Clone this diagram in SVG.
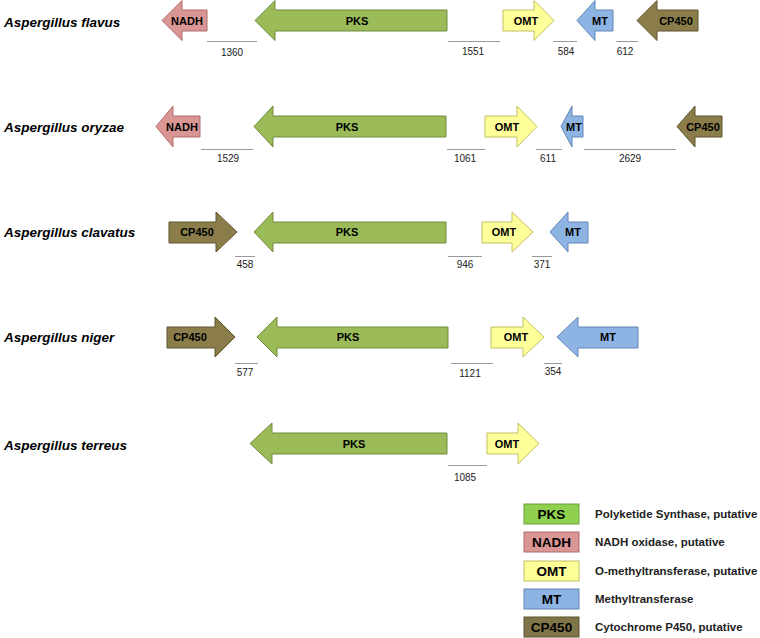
<svg xmlns="http://www.w3.org/2000/svg" width="760" height="638" viewBox="0 0 760 638">
<style>
.sp{font-family:"Liberation Sans",Arial,sans-serif;font-size:13.5px;font-weight:bold;font-style:italic;fill:#000}
.gl{font-family:"Liberation Sans",Arial,sans-serif;font-size:11px;font-weight:bold;fill:#000;text-anchor:middle}
.num{font-family:"Liberation Sans",Arial,sans-serif;font-size:10px;fill:#222;text-anchor:middle}
.lgt{font-family:"Liberation Sans",Arial,sans-serif;font-size:13.5px;font-weight:bold;fill:#000;text-anchor:middle}
.lgd{font-family:"Liberation Sans",Arial,sans-serif;font-size:11.5px;font-weight:bold;fill:#222}
.pks{fill:#9BBB59;stroke:#71893F;stroke-width:1}
.nadh{fill:#D99694;stroke:#B06C6A;stroke-width:1}
.omt{fill:#FFFF99;stroke:#BFBF66;stroke-width:1}
.mt{fill:#8EB4E3;stroke:#5F86B6;stroke-width:1}
.cp{fill:#8A7D4A;stroke:#5E5430;stroke-width:1}
.sc{stroke:#999;stroke-width:1;fill:none}
</style>

<g id="labels">
<text class="sp" x="4" y="27">Aspergillus flavus</text>
<text class="sp" x="4" y="132">Aspergillus oryzae</text>
<text class="sp" x="4" y="237">Aspergillus clavatus</text>
<text class="sp" x="4" y="342">Aspergillus niger</text>
<text class="sp" x="4" y="450">Aspergillus terreus</text>
</g>

<!-- Row 1: flavus -->
<g id="flavus-NADH"><path class="nadh" d="M162,20.5 L182,0.5 L182,10 L207,10 L207,31 L182,31 L182,40.5 Z"/><text class="gl" x="187" y="24.5">NADH</text></g>
<g id="flavus-PKS"><path class="pks" d="M255,20.5 L275,0.5 L275,10 L447,10 L447,31 L275,31 L275,40.5 Z"/><text class="gl" x="357" y="24.5">PKS</text></g>
<g id="flavus-OMT"><path class="omt" d="M503,10 L534,10 L534,0.5 L554,20.5 L534,40.5 L534,31 L503,31 Z"/><text class="gl" x="526" y="24.5">OMT</text></g>
<g id="flavus-MT"><path class="mt" d="M577,20.5 L595,0.5 L595,10 L613,10 L613,31 L595,31 L595,40.5 Z"/><text class="gl" x="600" y="24.5">MT</text></g>
<g id="flavus-CP450"><path class="cp" d="M637,20.5 L657,0.5 L657,10 L698,10 L698,31 L657,31 L657,40.5 Z"/><text class="gl" x="676" y="24.5">CP450</text></g>

<!-- Row 2: oryzae -->
<g id="oryzae-NADH"><path class="nadh" d="M156,126.5 L173,106 L173,116 L200,116 L200,137 L173,137 L173,147 Z"/><text class="gl" x="182" y="130.5">NADH</text></g>
<g id="oryzae-PKS"><path class="pks" d="M254,126.5 L273,106 L273,116 L446,116 L446,137 L273,137 L273,147 Z"/><text class="gl" x="347" y="130.5">PKS</text></g>
<g id="oryzae-OMT"><path class="omt" d="M485,116 L517,116 L517,106 L537,126.5 L517,147 L517,137 L485,137 Z"/><text class="gl" x="507" y="130.5">OMT</text></g>
<g id="oryzae-MT"><path class="mt" d="M561,126.5 L572,106 L572,116 L583,116 L583,137 L572,137 L572,147 Z"/><text class="gl" x="574" y="130.5">MT</text></g>
<g id="oryzae-CP450"><path class="cp" d="M677,126.5 L695,106 L695,116 L722,116 L722,137 L695,137 L695,147 Z"/><text class="gl" x="703" y="130.5">CP450</text></g>

<!-- Row 3: clavatus -->
<g id="clavatus-CP450"><path class="cp" d="M169,222 L216,222 L216,212 L237,232 L216,252 L216,243 L169,243 Z"/><text class="gl" x="197" y="236">CP450</text></g>
<g id="clavatus-PKS"><path class="pks" d="M254,232 L273,212 L273,222 L446,222 L446,243 L273,243 L273,252 Z"/><text class="gl" x="347" y="236">PKS</text></g>
<g id="clavatus-OMT"><path class="omt" d="M482,222 L512,222 L512,212 L533,232 L512,252 L512,243 L482,243 Z"/><text class="gl" x="504" y="236">OMT</text></g>
<g id="clavatus-MT"><path class="mt" d="M550,232 L568,212 L568,222 L588,222 L588,243 L568,243 L568,252 Z"/><text class="gl" x="573" y="236">MT</text></g>

<!-- Row 4: niger -->
<g id="niger-CP450"><path class="cp" d="M167,327 L215,327 L215,317 L235,337 L215,357 L215,348 L167,348 Z"/><text class="gl" x="190" y="341">CP450</text></g>
<g id="niger-PKS"><path class="pks" d="M257,337 L277,317 L277,327 L448,327 L448,348 L277,348 L277,357 Z"/><text class="gl" x="348" y="341">PKS</text></g>
<g id="niger-OMT"><path class="omt" d="M491,327 L523,327 L523,317 L544,337 L523,357 L523,348 L491,348 Z"/><text class="gl" x="516" y="341">OMT</text></g>
<g id="niger-MT"><path class="mt" d="M557,337 L578,317 L578,327 L638,327 L638,348 L578,348 L578,357 Z"/><text class="gl" x="608" y="341">MT</text></g>

<!-- Row 5: terreus -->
<g id="terreus-PKS"><path class="pks" d="M250,443.5 L272,423 L272,433 L447,433 L447,454 L272,454 L272,464 Z"/><text class="gl" x="354" y="447.5">PKS</text></g>
<g id="terreus-OMT"><path class="omt" d="M487,433 L518,433 L518,423 L539,443.5 L518,464 L518,454 L487,454 Z"/><text class="gl" x="507" y="447.5">OMT</text></g>

<g id="connectors">
<line class="sc" x1="207" y1="41.5" x2="257" y2="41.5"/>
<line class="sc" x1="448" y1="41.5" x2="500" y2="41.5"/>
<line class="sc" x1="553" y1="41.5" x2="577" y2="41.5"/>
<line class="sc" x1="616" y1="41.5" x2="638" y2="41.5"/>
<line class="sc" x1="201" y1="149.5" x2="253" y2="149.5"/>
<line class="sc" x1="447" y1="149.5" x2="485" y2="149.5"/>
<line class="sc" x1="536" y1="149.5" x2="562" y2="149.5"/>
<line class="sc" x1="584" y1="149.5" x2="676" y2="149.5"/>
<line class="sc" x1="235" y1="256.5" x2="255" y2="256.5"/>
<line class="sc" x1="448" y1="256.5" x2="482" y2="256.5"/>
<line class="sc" x1="532" y1="256.5" x2="552" y2="256.5"/>
<line class="sc" x1="235" y1="363.5" x2="258" y2="363.5"/>
<line class="sc" x1="451" y1="363.5" x2="493" y2="363.5"/>
<line class="sc" x1="544" y1="363.5" x2="562" y2="363.5"/>
<line class="sc" x1="448" y1="465.5" x2="487" y2="465.5"/>
</g>

<g id="distances">
<text class="num" x="232" y="56">1360</text>
<text class="num" x="473" y="55">1551</text>
<text class="num" x="566" y="55">584</text>
<text class="num" x="625" y="55">612</text>
<text class="num" x="228" y="162">1529</text>
<text class="num" x="465" y="162">1061</text>
<text class="num" x="548" y="162">611</text>
<text class="num" x="630" y="162">2629</text>
<text class="num" x="245" y="268">458</text>
<text class="num" x="465" y="268">946</text>
<text class="num" x="542" y="268">371</text>
<text class="num" x="245" y="376">577</text>
<text class="num" x="470" y="377">1121</text>
<text class="num" x="553" y="375">354</text>
<text class="num" x="465" y="481">1085</text>
</g>

<g id="legend">
<rect x="524" y="504" width="55" height="20" fill="#8FD14F" stroke="#6FA03A"/>
<text class="lgt" x="551.5" y="519">PKS</text>
<text class="lgd" x="595" y="518">Polyketide Synthase, putative</text>
<rect x="524" y="532" width="55" height="20" fill="#D99694" stroke="#B06C6A"/>
<text class="lgt" x="551.5" y="547">NADH</text>
<text class="lgd" x="595" y="546">NADH oxidase, putative</text>
<rect x="524" y="561" width="55" height="20" fill="#FFFF99" stroke="#BFBF66"/>
<text class="lgt" x="551.5" y="576">OMT</text>
<text class="lgd" x="595" y="575">O-methyltransferase, putative</text>
<rect x="524" y="589" width="55" height="20" fill="#8EB4E3" stroke="#5F86B6"/>
<text class="lgt" x="551.5" y="604">MT</text>
<text class="lgd" x="595" y="603">Methyltransferase</text>
<rect x="524" y="617" width="55" height="20" fill="#7F7548" stroke="#5E5430"/>
<text class="lgt" x="551.5" y="632">CP450</text>
<text class="lgd" x="595" y="631">Cytochrome P450, putative</text>
</g>
</svg>
